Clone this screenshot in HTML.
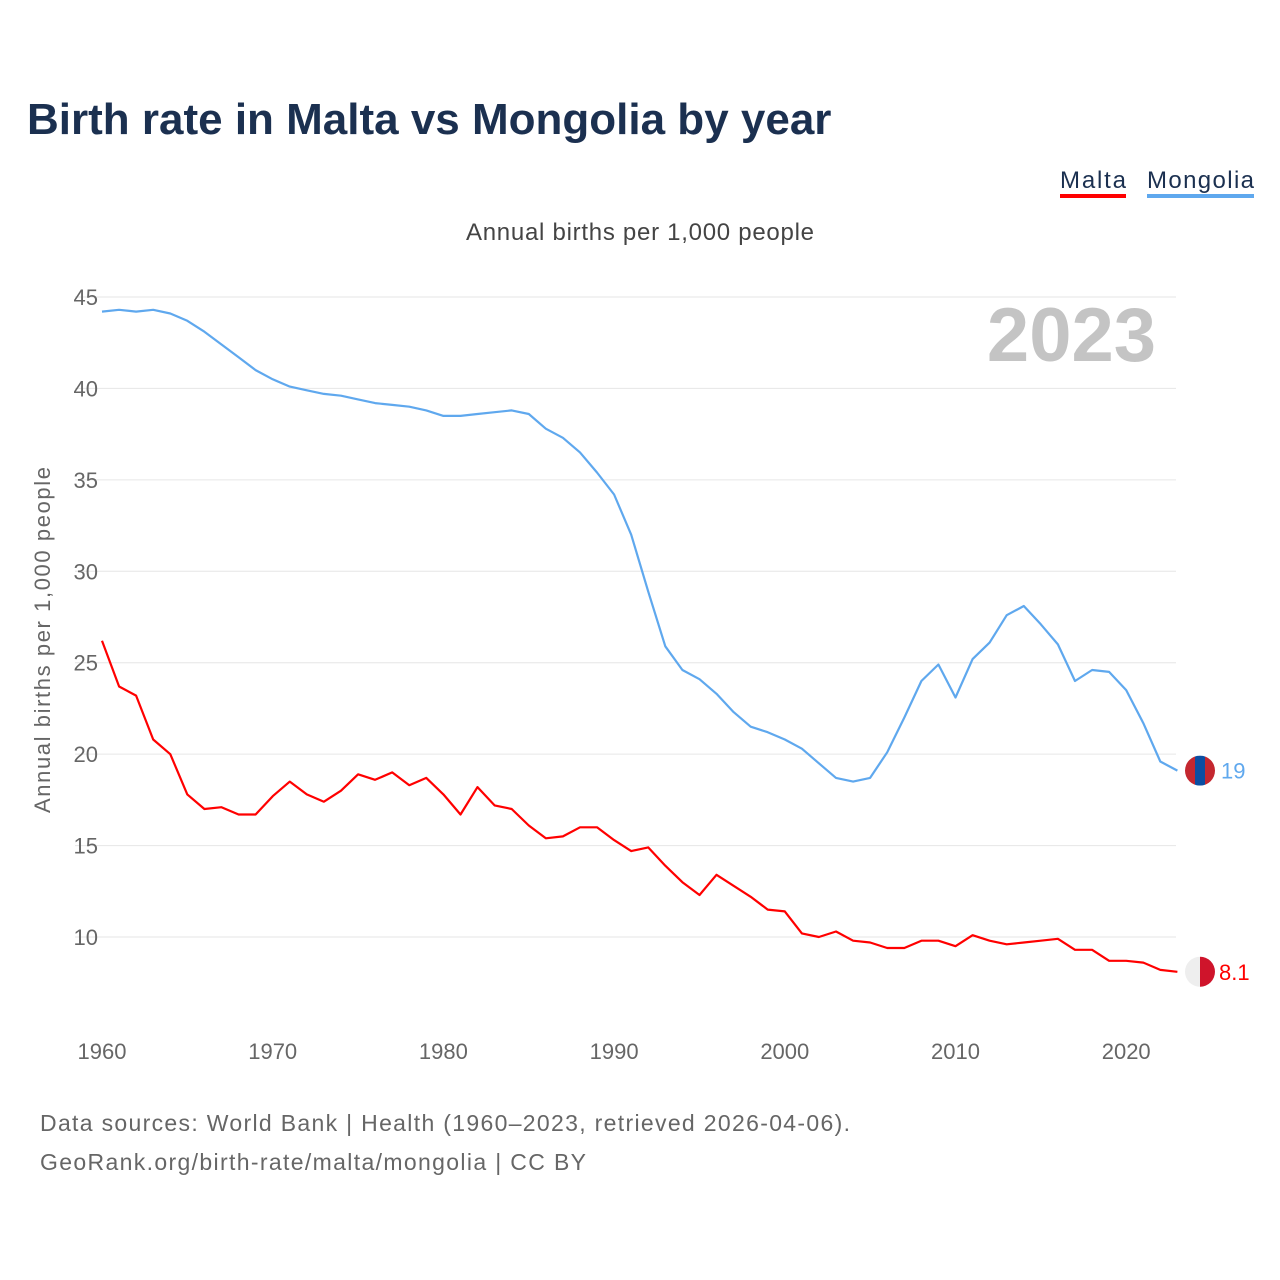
<!DOCTYPE html>
<html><head><meta charset="utf-8"><style>
body{margin:0;background:#fff;font-family:"Liberation Sans",sans-serif}
#root{position:relative;width:1280px;height:1280px;overflow:hidden}
</style></head><body>
<div id="root">
<svg id="chart" width="1280" height="1280"></svg>
</div>
<script>
const years=[];for(let y=1960;y<=2023;y++)years.push(y);
const mongolia=[44.2,44.3,44.2,44.3,44.1,43.7,43.1,42.4,41.7,41.0,40.5,40.1,39.9,39.7,39.6,39.4,39.2,39.1,39.0,38.8,38.5,38.5,38.6,38.7,38.8,38.6,37.8,37.3,36.5,35.4,34.2,32.0,28.9,25.9,24.6,24.1,23.3,22.3,21.5,21.2,20.8,20.3,19.5,18.7,18.5,18.7,20.1,22.0,24.0,24.9,23.1,25.2,26.1,27.6,28.1,27.1,26.0,24.0,24.6,24.5,23.5,21.7,19.6,19.1];
const malta=[26.2,23.7,23.2,20.8,20.0,17.8,17.0,17.1,16.7,16.7,17.7,18.5,17.8,17.4,18.0,18.9,18.6,19.0,18.3,18.7,17.8,16.7,18.2,17.2,17.0,16.1,15.4,15.5,16.0,16.0,15.3,14.7,14.9,13.9,13.0,12.3,13.4,12.8,12.2,11.5,11.4,10.2,10.0,10.3,9.8,9.7,9.4,9.4,9.8,9.8,9.5,10.1,9.8,9.6,9.7,9.8,9.9,9.3,9.3,8.7,8.7,8.6,8.2,8.1];
const yTicks=[10,15,20,25,30,35,40,45];
const xTicks=[1960,1970,1980,1990,2000,2010,2020];
const endLabels=["19","8.1"];
const X=y=>102+(y-1960)*17.07;
const Y=v=>297+(45-v)*18.286;
const NS="http://www.w3.org/2000/svg";
const svg=document.getElementById('chart');
function mk(t,a,txt){const e=document.createElementNS(NS,t);for(const k in a)e.setAttribute(k,a[k]);if(txt!=null)e.textContent=txt;svg.appendChild(e);return e;}
const F='"Liberation Sans",sans-serif';
let e;
e=mk('text',{x:27,y:134,'font-size':44,'font-weight':'bold',fill:'#1b3050','font-family':F},'Birth rate in Malta vs Mongolia by year');

e=mk('text',{x:1060,y:188,'font-size':24,fill:'#1b3050','font-family':F,textLength:66},'Malta');

e=mk('rect',{x:1060,y:194,width:66,height:4,fill:'#f00'});

e=mk('text',{x:1147,y:188,'font-size':24,fill:'#1b3050','font-family':F,textLength:107},'Mongolia');

e=mk('rect',{x:1147,y:194,width:107,height:4,fill:'#5fa8ee'});

e=mk('text',{x:466,y:240,'font-size':24,fill:'#444','font-family':F,textLength:348},'Annual births per 1,000 people');

yTicks.forEach(t=>{
 e=mk('line',{x1:75,x2:1176,y1:Y(t),y2:Y(t),stroke:'#e6e6e6','stroke-width':1});
 
 e=mk('text',{x:98,y:Y(t)+8,'font-size':22,fill:'#666','text-anchor':'end','font-family':F},String(t));
 
});
xTicks.forEach(t=>{
 e=mk('text',{x:X(t),y:1059,'font-size':22,fill:'#666','text-anchor':'middle','font-family':F},String(t));
 
});
e=mk('text',{x:0,y:0,'font-size':22,fill:'#666','text-anchor':'middle','font-family':F,transform:'translate(50,640) rotate(-90)',textLength:346},'Annual births per 1,000 people');

e=mk('text',{x:1156,y:361,'font-size':76,'font-weight':'bold',fill:'#c4c4c4','text-anchor':'end','font-family':F},'2023');

function line(data,color,name){
 const d=data.map((v,i)=>(i?'L':'M')+X(years[i]).toFixed(1)+','+Y(v).toFixed(1)).join('');
 const p=mk('path',{d:d,fill:'none',stroke:color,'stroke-width':2.2,'stroke-linejoin':'round'});
 
}
line(mongolia,'#5fa8ee','mongolia-line');
line(malta,'#f00','malta-line');
const lastM=mongolia[mongolia.length-1],lastT=malta[malta.length-1];
const defs=mk('defs',{});
const cp=document.createElementNS(NS,'clipPath');cp.setAttribute('id','mc');
const cc=document.createElementNS(NS,'circle');cc.setAttribute('cx',1200);cc.setAttribute('cy',Y(lastM));cc.setAttribute('r',15);
cp.appendChild(cc);defs.appendChild(cp);
const g=mk('g',{'clip-path':'url(#mc)'});

[[1185,'#c4272f'],[1195,'#0b4ea2'],[1205,'#c4272f']].forEach(s=>{
 const r=document.createElementNS(NS,'rect');r.setAttribute('x',s[0]);r.setAttribute('y',Y(lastM)-15);r.setAttribute('width',10);r.setAttribute('height',30);r.setAttribute('fill',s[1]);g.appendChild(r);
});
e=mk('text',{x:1221,y:Y(lastM)+8,'font-size':22,fill:'#5fa8ee','font-family':F},endLabels[0]);

e=mk('circle',{cx:1200,cy:Y(lastT),r:15,fill:'#eee'});

e=mk('path',{d:`M1200,${Y(lastT)-15}a15,15 0 0 1 0,30z`,fill:'#cf142b'});
e=mk('text',{x:1219,y:Y(lastT)+8,'font-size':22,fill:'#f00','font-family':F},endLabels[1]);

e=mk('text',{x:40,y:1131,'font-size':23,fill:'#666','font-family':F,textLength:810},'Data sources: World Bank | Health (1960–2023, retrieved 2026-04-06).');

e=mk('text',{x:40,y:1170,'font-size':23,fill:'#666','font-family':F,textLength:546},'GeoRank.org/birth-rate/malta/mongolia | CC BY');

</script>
</body></html>
